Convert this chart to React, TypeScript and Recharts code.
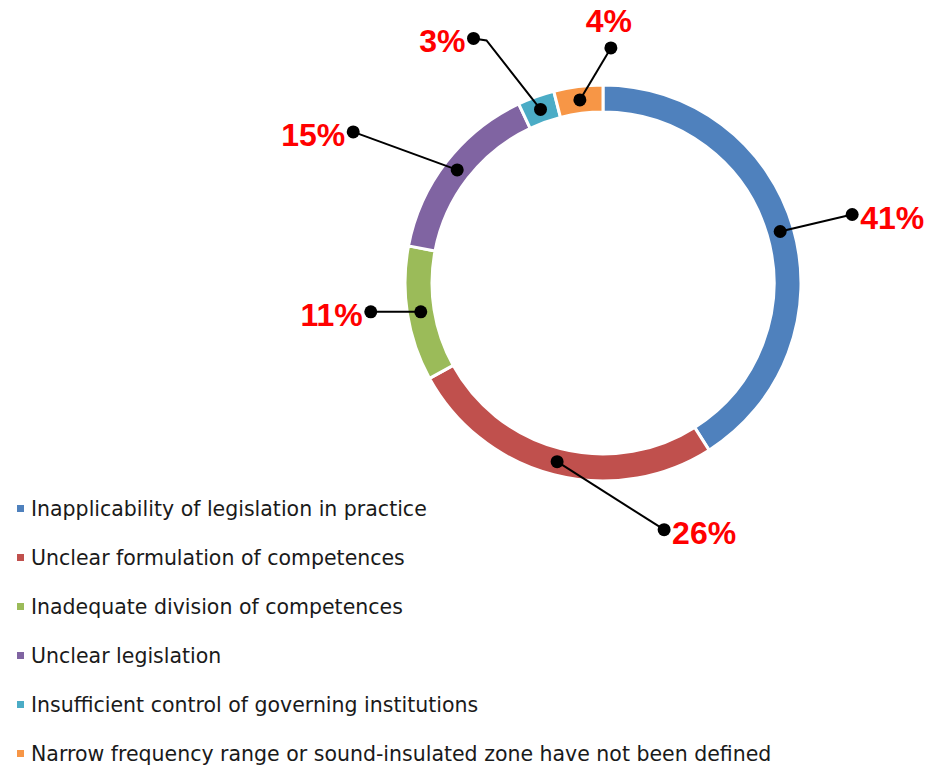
import { Cell, Pie, PieChart } from 'recharts';

const CATEGORIES = [
  'Inapplicability of legislation in practice',
  'Unclear formulation of competences',
  'Inadequate division of competences',
  'Unclear legislation',
  'Insufficient control of governing institutions',
  'Narrow frequency range or sound-insulated zone have not been defined',
];
const SHARES = [41, 26, 11, 15, 3, 4];

const COLORS = ['#4F81BD', '#C0504D', '#9BBB59', '#8064A2', '#4BACC6', '#F79646'];

// leader line end, relative to the point on the ring
const LABEL_OFFSETS: [number, number][] = [
  [72, -17],
  [107, 68],
  [-50, 0],
  [-104, -38],
  [-67, -71],
  [31, -52],
];
const LABEL_SIDE = ['right', 'right', 'left', 'left', 'left', 'top'];
const LABEL_ELBOW = [0, 0, 0, 0, 13, 0];

const data = CATEGORIES.map((name, i) => ({ name, value: SHARES[i] }));

const RAD = Math.PI / 180;

function LeaderLabel(props: any) {
  const { cx, cy, midAngle, innerRadius, outerRadius, index, value } = props;
  const r = (innerRadius + outerRadius) / 2;
  const x0 = cx + r * Math.cos(-midAngle * RAD);
  const y0 = cy + r * Math.sin(-midAngle * RAD);
  const [dx, dy] = LABEL_OFFSETS[index];
  const x1 = x0 + dx;
  const y1 = y0 + dy;
  const elbow = LABEL_ELBOW[index];
  const side = LABEL_SIDE[index];
  const pts = elbow
    ? `${x0},${y0} ${x1 + elbow},${y1 + 2} ${x1},${y1}`
    : `${x0},${y0} ${x1},${y1}`;

  let tx = x1 + 8;
  let ty = y1 + 3;
  let anchor: 'start' | 'end' | 'middle' = 'start';
  if (side === 'left') {
    tx = x1 - 8;
    anchor = 'end';
  } else if (side === 'top') {
    tx = x1 - 2;
    ty = y1 - 27;
    anchor = 'middle';
  }

  return (
    <g>
      <polyline points={pts} fill="none" stroke="#000" strokeWidth={2} />
      <circle cx={x0} cy={y0} r={6.5} fill="#000" />
      <circle cx={x1} cy={y1} r={6.5} fill="#000" />
      <text
        x={tx}
        y={ty}
        textAnchor={anchor}
        dominantBaseline="central"
        fill="#FF0000"
        fontWeight="bold"
        fontSize={32}
        fontFamily="'Liberation Sans', Arial, sans-serif"
      >
        {`${value}%`}
      </text>
    </g>
  );
}

function LegendList() {
  return (
    <div style={{ position: 'absolute', left: 8, top: 484 }}>
      {CATEGORIES.map((name, i) => (
        <div key={name} style={{ display: 'flex', alignItems: 'center', height: 49 }}>
          <span
            style={{
              width: 7,
              height: 7,
              backgroundColor: COLORS[i],
              marginLeft: 9,
              marginRight: 7,
            }}
          />
          <span style={{ fontSize: 20.5, color: '#1a1a1a', whiteSpace: 'nowrap' }}>{name}</span>
        </div>
      ))}
    </div>
  );
}

export default function App() {
  return (
    <div
      style={{
        position: 'relative',
        margin: -8,
        width: 940,
        height: 782,
        overflow: 'hidden',
        fontFamily: "'DejaVu Sans', sans-serif",
      }}
    >
      <PieChart width={940} height={782} margin={{ top: 0, right: 0, bottom: 0, left: 0 }}>
        <Pie
          data={data}
          dataKey="value"
          nameKey="name"
          cx={603}
          cy={283}
          innerRadius={171}
          outerRadius={198}
          startAngle={90}
          endAngle={-270}
          stroke="#FFFFFF"
          strokeWidth={3}
          label={LeaderLabel}
          labelLine={false}
          isAnimationActive={false}
        >
          {data.map((d, i) => (
            <Cell key={d.name} fill={COLORS[i]} />
          ))}
        </Pie>
      </PieChart>
      <LegendList />
    </div>
  );
}
